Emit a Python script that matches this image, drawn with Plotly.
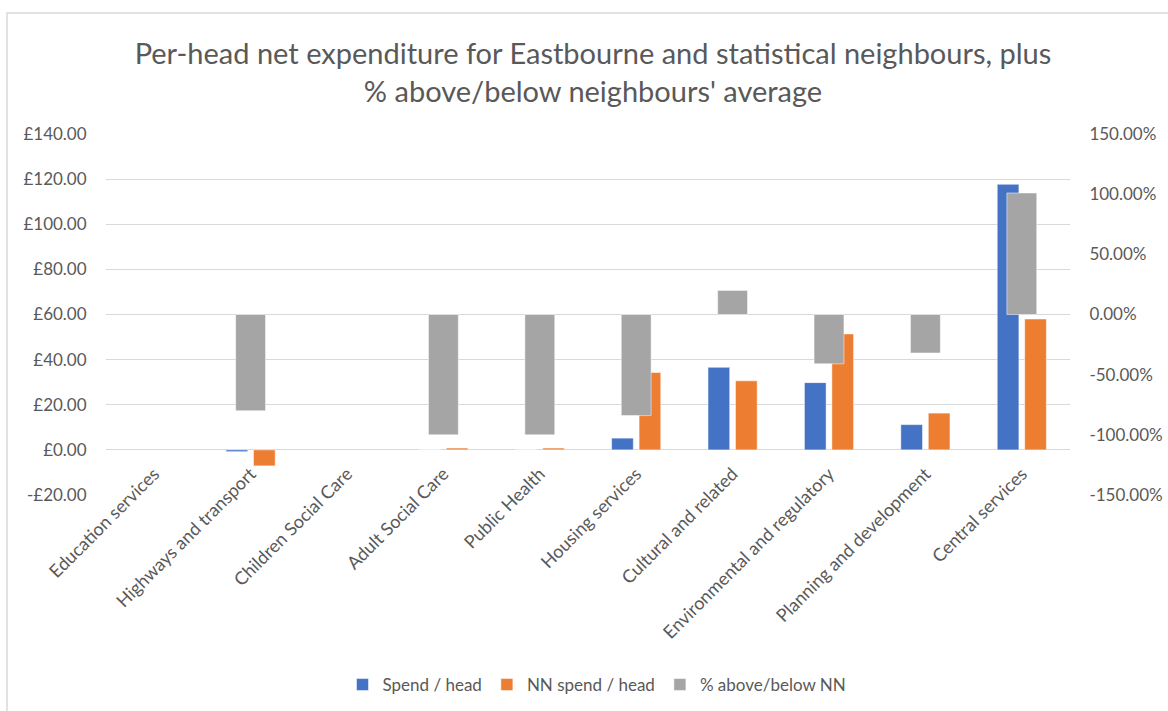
import plotly.graph_objects as go

categories = ["Education services", "Highways and transport", "Children Social Care",
              "Adult Social Care", "Public Health", "Housing services", "Cultural and related",
              "Environmental and regulatory", "Planning and development", "Central services"]
spend_head = [None, -0.8, None, 0.0, 0.0, 5.2, 36.6, 29.8, 11.2, 117.7]
nn_spend_head = [None, -7.1, None, 0.8, 0.8, 34.3, 30.6, 51.4, 16.3, 58.0]
pct_vs_nn = [None, -80.0, None, -100.0, -100.0, -84.0, 20.0, -41.0, -32.0, 101.0]

left_tickvals = [-20, 0, 20, 40, 60, 80, 100, 120, 140]
left_ticktext = ["-£20.00", "£0.00", "£20.00", "£40.00", "£60.00", "£80.00", "£100.00", "£120.00", "£140.00"]
right_tickvals = [-150, -100, -50, 0, 50, 100, 150]
right_ticktext = ["-150.00%", "-100.00%", "-50.00%", "0.00%", "50.00%", "100.00%", "150.00%"]

FONT = "Lato"
TXT = "#595959"
W, H = 1168, 711
L, R, T, B = 106, 98, 134, 216

fig = go.Figure()
fig.add_trace(go.Bar(x=categories, y=spend_head, name="Spend / head",
                     marker=dict(color="#4472C4", line=dict(color="white", width=0.5)),
                     width=0.225, offset=-0.255, yaxis="y"))
fig.add_trace(go.Bar(x=categories, y=nn_spend_head, name="NN spend / head",
                     marker=dict(color="#ED7D31", line=dict(color="white", width=0.5)),
                     width=0.225, offset=0.03, yaxis="y"))
fig.add_trace(go.Bar(x=categories, y=pct_vs_nn, name="% above/below NN",
                     marker=dict(color="#A5A5A5", line=dict(color="white", width=0.5)),
                     width=0.31, offset=-0.155, yaxis="y2"))

pw = W - L - R
ph = H - T - B
fig.update_layout(
    width=W, height=H,
    margin=dict(l=L, r=R, t=T, b=B, autoexpand=False),
    paper_bgcolor="white", plot_bgcolor="white",
    font=dict(family=FONT, color=TXT, size=16),
    title=dict(text="Per-head net expenditure for Eastbourne and statistical neighbours, plus<br>% above/below neighbours' average",
               x=593 / W, xref="container", xanchor="center",
               y=1 - 64 / H, yref="container", yanchor="top",
               font=dict(family=FONT, size=29, color=TXT)),
    barmode="overlay",
    showlegend=True,
    legend=dict(orientation="h", xref="container", yref="container",
                x=597 / W, xanchor="center", y=1 - 685 / H, yanchor="middle",
                font=dict(size=17, color=TXT), itemwidth=30, traceorder="normal"),
    xaxis=dict(type="category", tickangle=-45, showgrid=False, showline=False,
               ticks="", tickfont=dict(size=18, color=TXT), range=[-0.5, 9.5],
               automargin=False, ticklabelstandoff=-36),
    yaxis=dict(range=[-20, 140], tickvals=left_tickvals, ticktext=left_ticktext,
               showgrid=True, gridcolor="#D9D9D9", gridwidth=1,
               zeroline=True, zerolinecolor="#D9D9D9", zerolinewidth=1,
               showline=False, ticks="outside", ticklen=15, tickcolor="rgba(0,0,0,0)",
               automargin=False, tickfont=dict(size=17, color=TXT)),
    yaxis2=dict(range=[-150, 150], tickvals=right_tickvals, ticktext=right_ticktext,
                overlaying="y", side="right", showgrid=False, zeroline=False,
                showline=False, ticks="outside", ticklen=15, tickcolor="rgba(0,0,0,0)",
                automargin=False, tickfont=dict(size=17, color=TXT)),
    shapes=[dict(type="rect", xref="paper", yref="paper",
                 x0=(7 - L) / pw, x1=(W + 20 - L) / pw,
                 y0=(H - B - (H + 20)) / ph, y1=(H - B - 13) / ph,
                 line=dict(color="#D9D9D9", width=1.5), fillcolor="rgba(0,0,0,0)",
                 layer="below")],
)

fig.write_html("out.html", config={"displayModeBar": False},
               post_script="document.body.style.margin='0';document.documentElement.style.overflow='hidden';")
